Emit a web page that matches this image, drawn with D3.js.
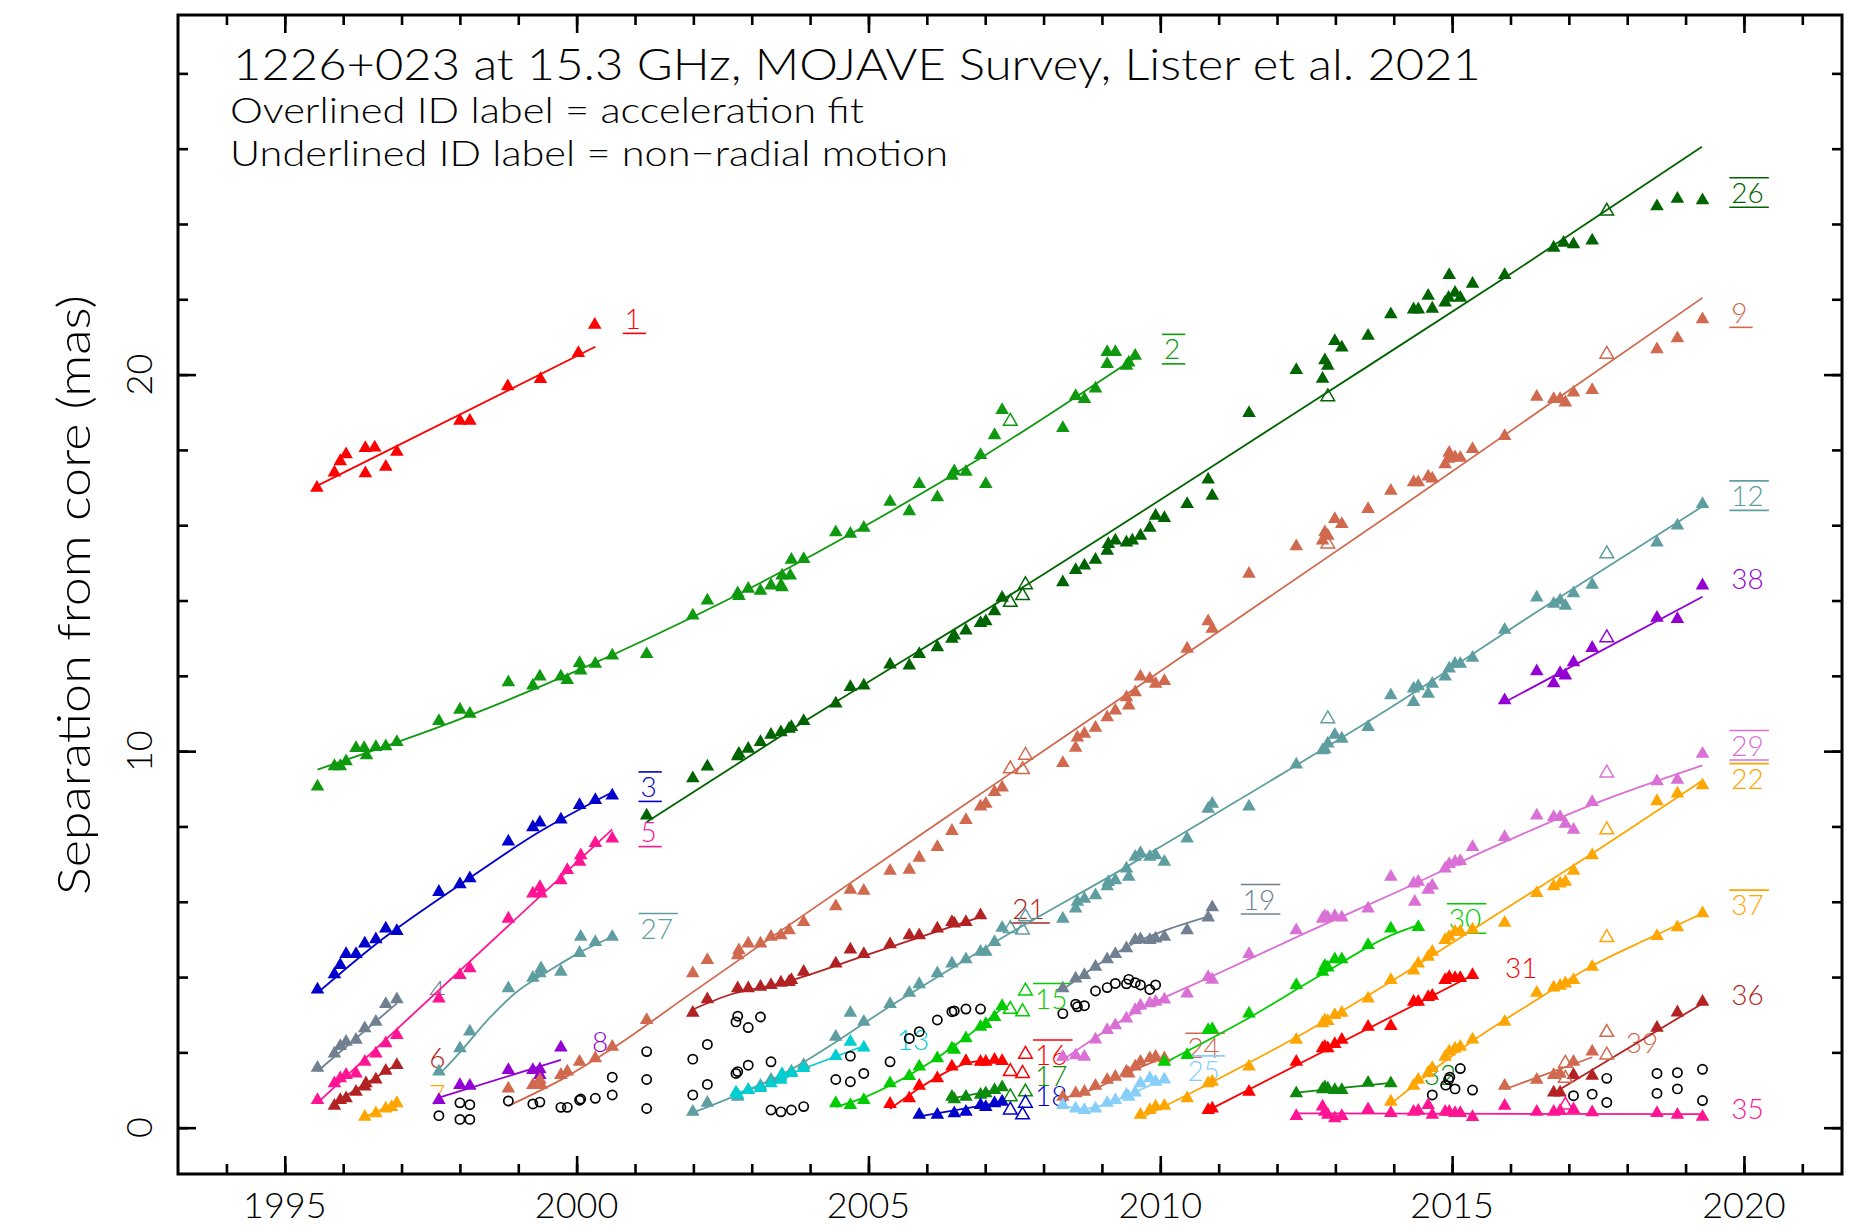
<!DOCTYPE html>
<html>
<head>
<meta charset="utf-8">
<script src="https://cdn.jsdelivr.net/npm/d3@7"></script>
<style>
body { margin: 0; background: #fff; }
svg text { font-family: Lato, "Liberation Sans", Arial, sans-serif; font-weight: 300; }
</style>
</head>
<body>
<svg id="chart" width="1854" height="1227"></svg>
<script>
// epochs [year, separation mas], one array per jet feature
var c1 = [[1995.55,16.99],[1995.85,17.40],[1995.95,17.70],[1996.05,17.88],[1996.38,18.05],[1996.38,17.38],[1996.54,18.06],[1996.73,17.55],[1996.92,17.95],[1998.0,18.77],[1998.17,18.77],[1998.82,19.69],[1999.38,19.88],[2000.03,20.57],[2000.31,21.32]];
var fit1 = [[1995.56,17.05],[2000.32,20.74]];

var c2 = [[1995.56,9.06],[1995.85,9.60],[1995.95,9.60],[1996.05,9.73],[1996.22,10.08],[1996.36,10.08],[1996.40,9.89],[1996.56,10.11],[1996.73,10.13],[1996.92,10.24],[1997.64,10.80],[1998.00,11.10],[1998.17,10.99],[1998.83,11.83],[1999.25,11.74],[1999.37,11.98],[1999.73,11.98],[1999.84,11.89],[2000.05,12.34],[2000.07,12.14],[2000.32,12.32],[2000.61,12.54],[2001.20,12.58],[2001.99,13.60],[2002.24,14.00],[2002.76,14.19],[2002.78,14.12],[2002.94,14.31],[2003.15,14.26],[2003.33,14.40],[2003.50,14.40],[2003.52,14.66],[2003.66,14.66],[2003.52,14.35],[2003.68,15.08],[2003.89,15.10],[2004.44,15.81],[2004.69,15.77],[2004.92,15.93],[2005.37,16.62],[2005.70,16.37],[2005.87,17.09],[2006.18,16.74],[2006.43,17.31],[2006.47,17.43],[2006.67,17.42],[2006.92,17.86],[2007.01,17.09],[2007.16,18.39],[2007.29,19.06],[2008.33,18.58],[2008.55,19.43],[2008.70,19.35],[2008.89,19.63],[2009.09,20.60],[2009.23,20.60],[2009.09,20.28],[2009.42,20.23],[2009.46,20.32],[2009.57,20.50]];
var c2Open = [[2007.43,18.76]];
var fit2 = [[1995.56,9.51],[1998,10.85],[2000,12.13],[2002.56,14.0],[2005,16.03],[2007,17.86],[2009.57,20.45]];

var c3 = [[1995.56,3.67],[1995.85,4.07],[1995.95,4.32],[1996.05,4.61],[1996.22,4.61],[1996.37,4.89],[1996.56,5.00],[1996.73,5.29],[1996.92,5.22],[1997.64,6.26],[1998.00,6.46],[1998.17,6.62],[1998.83,7.60],[1999.25,7.98],[1999.37,8.10],[1999.73,8.18],[2000.05,8.57],[2000.32,8.70],[2000.61,8.82]];
var fit3 = [[1995.56,3.58],[1996.5,4.8],[1998,6.45],[1999.3,7.8],[2000.61,8.91]];

var c4 = [[1995.56,1.59],[1995.85,1.97],[1995.95,2.17],[1996.05,2.28],[1996.22,2.33],[1996.37,2.64],[1996.56,2.81],[1996.73,3.28],[1996.92,3.41]];
var fit4 = [[1995.56,1.50],[1996.92,3.30]];

var c5 = [[1995.56,0.73],[1995.85,1.18],[1995.95,1.31],[1996.05,1.40],[1996.22,1.44],[1996.37,1.75],[1996.56,1.97],[1996.73,2.24],[1996.92,2.46],[1997.64,3.43],[1998.00,4.05],[1998.17,4.23],[1998.83,5.55],[1999.25,6.22],[1999.37,6.39],[1999.39,6.22],[1999.73,6.57],[1999.84,6.84],[2000.05,7.06],[2000.07,7.23],[2000.32,7.56],[2000.61,7.68]];
var fit5 = [[1995.56,0.66],[2000.61,7.92]];

var c6 = [[1995.85,0.58],[1995.95,0.73],[1996.05,0.78],[1996.22,0.95],[1996.37,1.09],[1996.39,1.18],[1996.56,1.28],[1996.73,1.51],[1996.92,1.66]];
var fit6 = [[1995.79,0.60],[1996.92,1.68]];

var c7 = [[1996.37,0.29],[1996.56,0.38],[1996.73,0.51],[1996.83,0.55],[1996.92,0.65]];
var fit7 = [[1996.30,0.24],[1996.95,0.68]];

var c8 = [[1997.64,0.73],[1998.00,1.13],[1998.17,1.11],[1998.83,1.53],[1999.25,1.53],[1999.37,1.55],[1999.37,1.40],[1999.73,2.13]];
var fit8 = [[1997.64,0.80],[1999.73,1.80]];

var c9 = [[1998.83,1.04],[1999.25,1.13],[1999.37,1.27],[1999.39,1.13],[1999.73,1.40],[1999.84,1.49],[2000.05,1.75],[2000.32,1.84],[2000.61,2.15],[2001.20,2.86],[2001.99,4.10],[2002.24,4.45],[2002.76,4.58],[2002.78,4.71],[2002.94,4.89],[2003.15,4.89],[2003.33,5.07],[2003.50,5.11],[2003.64,5.24],[2003.89,5.46],[2004.44,5.88],[2004.69,6.32],[2004.92,6.29],[2005.37,6.82],[2005.70,6.85],[2005.87,7.17],[2006.18,7.45],[2006.43,7.88],[2006.67,8.17],[2006.92,8.53],[2007.01,8.60],[2007.16,8.91],[2007.29,9.03],[2008.33,9.68],[2008.55,10.09],[2008.58,10.36],[2008.70,10.46],[2008.89,10.62],[2009.09,10.90],[2009.23,11.08],[2009.42,11.43],[2009.46,11.21],[2009.57,11.56],[2009.66,11.98],[2009.82,11.92],[2009.92,11.79],[2010.07,11.86],[2010.46,12.72],[2010.82,13.45],[2010.89,13.25],[2011.52,14.71],[2012.33,15.44],[2012.78,15.59],[2012.82,15.81],[2012.87,15.72],[2012.99,16.16],[2013.11,16.03],[2013.56,16.43],[2013.95,16.91],[2014.34,17.14],[2014.42,17.14],[2014.59,17.29],[2014.66,17.24],[2014.88,17.62],[2014.95,17.92],[2014.94,17.76],[2015.05,17.80],[2015.14,17.79],[2015.35,18.02],[2015.90,18.37],[2016.45,19.41],[2016.74,19.35],[2016.85,19.35],[2016.94,19.26],[2017.08,19.52],[2017.40,19.59],[2018.51,20.67],[2018.86,20.96],[2019.29,21.47]];
var c9Open = [[2007.43,9.53],[2007.64,9.51],[2007.69,9.89],[2012.87,15.5],[2017.65,20.54]];
var fit9 = [[1998.83,0.58],[1999.8,1.33],[2000.61,2.1],[2001.99,3.6],[2003.49,5.22],[2006.27,8.18],[2010.0,12.12],[2014.11,16.47],[2019.29,22.04]];

var c12 = [[2001.99,0.42],[2002.24,0.66],[2002.76,0.82],[2002.94,1.00],[2003.15,1.11],[2003.33,1.27],[2003.50,1.35],[2003.68,1.49],[2003.89,1.66],[2004.44,2.41],[2004.69,3.05],[2004.92,2.81],[2005.37,3.28],[2005.70,3.58],[2005.87,3.81],[2006.18,4.10],[2006.43,4.36],[2006.67,4.47],[2006.92,4.67],[2007.01,4.67],[2007.16,4.93],[2007.29,5.31],[2008.33,5.55],[2008.55,5.82],[2008.58,6.00],[2008.70,6.08],[2008.89,6.17],[2009.09,6.41],[2009.11,6.52],[2009.23,6.57],[2009.42,6.88],[2009.46,6.66],[2009.57,7.19],[2009.66,7.29],[2009.82,7.19],[2009.92,7.23],[2010.07,7.06],[2010.46,7.68],[2010.82,8.47],[2010.89,8.60],[2011.52,8.53],[2012.33,9.64],[2012.78,10.02],[2012.82,10.05],[2012.87,10.20],[2012.99,10.43],[2013.11,10.33],[2013.56,10.64],[2013.95,11.48],[2014.34,11.66],[2014.42,11.72],[2014.34,11.30],[2014.59,11.52],[2014.66,11.79],[2014.88,11.98],[2014.95,12.19],[2015.05,12.32],[2015.14,12.32],[2015.35,12.48],[2015.90,13.22],[2016.45,14.08],[2016.74,13.91],[2016.85,14.00],[2016.94,13.86],[2017.08,14.19],[2017.40,14.42],[2018.51,15.54],[2018.86,15.99],[2019.29,16.56]];
var c12Open = [[2007.43,5.29],[2007.64,5.25],[2007.69,5.60],[2012.87,10.86],[2017.65,15.24]];
var fit12 = [[2001.99,0.4],[2003.5,1.4],[2005.5,3.35],[2007.3,5.05],[2009.5,7.0],[2011.5,8.85],[2013.94,11.15],[2016.5,13.75],[2019.29,16.5]];

var c13 = [[2002.76,0.87],[2002.73,0.93],[2002.94,1.00],[2003.15,1.05],[2003.33,1.18],[2003.50,1.27],[2003.52,1.42],[2003.68,1.45],[2003.89,1.58],[2004.44,1.90],[2004.69,2.28],[2004.92,2.13]];
var fit13 = [[2002.7,0.88],[2004.92,2.17]];

var c15 = [[2004.44,0.65],[2004.69,0.60],[2004.92,0.73],[2005.37,1.18],[2005.70,1.37],[2005.87,1.62],[2006.18,1.84],[2006.43,2.11],[2006.47,2.07],[2006.67,2.37],[2006.92,2.68],[2007.01,2.75],[2007.16,2.94],[2007.29,3.23]];
var c15Open = [[2007.43,3.14],[2007.64,3.08],[2007.69,3.63]];
var fit15 = [[2004.44,0.55],[2004.92,0.8],[2005.87,1.55],[2006.67,2.40],[2007.29,3.17]];

var c16 = [[2005.37,0.63],[2005.70,0.78],[2005.87,1.11],[2006.18,1.31],[2006.43,1.62],[2006.67,1.77],[2006.92,1.75],[2007.01,1.75],[2007.16,1.80],[2007.29,1.77]];
var c16Open = [[2007.43,1.49],[2007.64,1.44],[2007.69,1.95]];
var fit16 = [[2005.37,0.5],[2005.87,1.05],[2006.3,1.45],[2006.67,1.7],[2007.0,1.78],[2007.34,1.75]];

var c17 = [[2006.43,0.82],[2006.47,0.75],[2006.67,0.82],[2006.92,0.87],[2007.01,0.91],[2007.16,1.00],[2007.29,1.07]];
var c17Open = [[2007.43,0.82],[2007.69,0.95]];
var fit17 = [[2006.43,0.78],[2007.29,1.03]];

var c18 = [[2005.87,0.34],[2006.18,0.34],[2006.47,0.38],[2006.67,0.42],[2006.92,0.60],[2007.01,0.55],[2007.16,0.65],[2007.29,0.69]];
var c18Open = [[2007.43,0.47],[2007.64,0.34],[2007.69,0.65]];
var fit18 = [[2005.87,0.30],[2007.29,0.68]];

var c19 = [[2008.33,3.70],[2008.55,3.96],[2008.70,4.05],[2008.89,4.27],[2009.09,4.47],[2009.23,4.61],[2009.42,4.76],[2009.57,4.98],[2009.66,5.00],[2009.82,4.98],[2009.92,5.02],[2010.07,5.07],[2010.46,5.24],[2010.82,5.58],[2010.89,5.85]];
var fit19 = [[2008.33,3.67],[2008.95,4.35],[2009.59,4.93],[2010.25,5.33],[2010.89,5.64]];

var c21 = [[2001.99,3.05],[2002.24,3.41],[2002.76,3.70],[2002.94,3.70],[2003.15,3.74],[2003.33,3.79],[2003.50,3.85],[2003.64,3.87],[2003.68,3.92],[2003.89,4.14],[2004.44,4.36],[2004.69,4.73],[2004.92,4.61],[2005.37,4.87],[2005.70,5.11],[2005.87,5.11],[2006.18,5.29],[2006.43,5.46],[2006.47,5.42],[2006.67,5.46],[2006.92,5.64]];
var fit21 = [[2001.99,3.14],[2002.66,3.55],[2003.49,3.83],[2005.0,4.6],[2006.92,5.6]];

var c22 = [[2009.66,0.34],[2009.82,0.47],[2009.92,0.56],[2010.07,0.58],[2010.46,0.78],[2010.82,1.18],[2010.89,1.22],[2011.52,1.62],[2012.33,2.33],[2012.78,2.77],[2012.82,2.85],[2012.87,2.83],[2012.99,2.99],[2013.11,3.05],[2013.56,3.43],[2013.95,3.92],[2014.34,4.17],[2014.42,4.36],[2014.59,4.54],[2014.66,4.67],[2014.88,4.98],[2014.95,5.07],[2015.05,5.20],[2015.14,5.20],[2015.35,5.26],[2015.90,5.44],[2016.45,6.23],[2016.74,6.41],[2016.85,6.48],[2016.94,6.53],[2017.08,6.82],[2017.40,7.23],[2018.51,8.67],[2018.86,8.87],[2019.29,9.09]];
var c22Open = [[2017.65,7.91]];
var fit22 = [[2009.66,0.25],[2011.0,1.3],[2012.5,2.55],[2013.94,3.87],[2015.7,5.6],[2017.4,7.28],[2019.29,9.22]];

var c24 = [[2008.33,0.82],[2008.55,0.91],[2008.70,0.95],[2008.89,1.11],[2009.09,1.27],[2009.23,1.35],[2009.42,1.49],[2009.46,1.44],[2009.57,1.62],[2009.66,1.75],[2009.82,1.84],[2009.92,1.88],[2010.07,1.84]];
var fit24 = [[2008.33,0.78],[2008.9,1.05],[2009.5,1.5],[2010.07,1.86]];

var c25 = [[2008.33,0.60],[2008.55,0.51],[2008.70,0.47],[2008.89,0.51],[2009.09,0.66],[2009.23,0.73],[2009.42,0.87],[2009.46,0.82],[2009.57,0.93],[2009.66,1.18],[2009.82,1.31],[2009.92,1.22],[2010.07,1.28]];
var fit25 = [[2008.33,0.58],[2008.7,0.5],[2009.2,0.7],[2009.65,1.0],[2010.07,1.3]];

var c26 = [[2001.20,8.29],[2001.99,9.28],[2002.24,9.59],[2002.76,9.86],[2002.78,9.93],[2002.94,10.06],[2003.15,10.24],[2003.33,10.43],[2003.50,10.50],[2003.64,10.59],[2003.68,10.64],[2003.89,10.80],[2004.44,11.26],[2004.69,11.70],[2004.92,11.74],[2005.37,12.30],[2005.70,12.27],[2005.87,12.58],[2006.18,12.76],[2006.43,12.98],[2006.47,13.07],[2006.67,13.20],[2006.92,13.40],[2007.01,13.45],[2007.16,13.71],[2007.29,14.07],[2008.33,14.48],[2008.55,14.81],[2008.70,14.93],[2008.89,15.08],[2009.09,15.32],[2009.11,15.50],[2009.23,15.59],[2009.42,15.54],[2009.52,15.59],[2009.66,15.72],[2009.82,15.93],[2009.92,16.25],[2010.07,16.19],[2010.46,16.56],[2010.82,17.21],[2010.89,16.78],[2011.52,18.98],[2012.33,20.12],[2012.78,19.89],[2012.82,20.38],[2012.87,20.23],[2012.99,20.89],[2013.11,20.72],[2013.56,21.03],[2013.95,21.60],[2014.34,21.73],[2014.42,21.73],[2014.59,22.09],[2014.66,21.75],[2014.88,21.91],[2014.95,22.64],[2014.94,22.04],[2015.05,22.17],[2015.14,22.04],[2015.35,22.41],[2015.90,22.64],[2016.74,23.37],[2016.91,23.50],[2017.08,23.46],[2017.40,23.56],[2018.51,24.47],[2018.86,24.67],[2019.29,24.63]];
var c26Open = [[2007.43,13.95],[2007.64,14.13],[2007.69,14.42],[2012.87,19.41],[2017.65,24.34]];
var fit26 = [[2001.2,8.12],[2003.5,10.4],[2008.0,14.7],[2012.63,19.3],[2016.0,22.67],[2019.28,26.05]];

var c27 = [[1997.64,1.49],[1998.00,2.11],[1998.17,2.55],[1998.83,3.70],[1999.25,3.98],[1999.37,4.10],[1999.39,4.23],[1999.73,4.14],[2000.05,4.64],[2000.07,5.07],[2000.32,4.93],[2000.61,5.07]];
var fit27 = [[1997.64,1.40],[1998.0,2.0],[1998.5,2.9],[1998.93,3.55],[1999.54,4.18],[2000.05,4.65],[2000.61,5.07]];

var c29 = [[2008.33,1.88],[2008.55,1.92],[2008.70,1.88],[2008.89,2.34],[2009.09,2.59],[2009.23,2.72],[2009.42,2.90],[2009.57,3.12],[2009.66,3.24],[2009.82,3.30],[2009.92,3.34],[2010.07,3.40],[2010.46,3.56],[2010.82,4.00],[2010.89,3.93],[2011.52,4.61],[2012.33,5.24],[2012.78,5.55],[2012.82,5.62],[2012.87,5.58],[2012.99,5.62],[2013.11,5.58],[2013.56,5.82],[2013.95,6.66],[2014.34,6.48],[2014.42,6.53],[2014.36,6.00],[2014.59,6.32],[2014.66,6.43],[2014.88,6.88],[2014.95,7.00],[2015.05,7.06],[2015.14,7.08],[2015.35,7.45],[2015.90,7.72],[2016.45,8.29],[2016.74,8.25],[2016.85,8.25],[2016.94,8.07],[2017.08,7.91],[2017.40,8.65],[2018.51,9.20],[2018.86,9.24],[2019.29,9.93]];
var c29Open = [[2017.65,9.42]];
var fit29 = [[2008.33,1.8],[2009.59,3.08],[2011.0,4.1],[2012.5,5.18],[2014.11,6.3],[2015.7,7.45],[2017.37,8.56],[2019.29,9.62]];

var c30 = [[2010.07,1.75],[2010.46,1.93],[2010.82,2.59],[2010.89,2.62],[2011.52,3.03],[2012.33,3.79],[2012.78,4.14],[2012.82,4.30],[2012.87,4.25],[2012.99,4.47],[2013.11,4.47],[2013.56,4.85],[2013.95,5.29],[2014.42,5.33]];
var fit30 = [[2010.07,1.72],[2011.5,2.9],[2012.8,4.1],[2013.97,5.12],[2014.42,5.38]];

var c31 = [[2010.82,0.47],[2010.89,0.51],[2011.52,0.95],[2012.33,1.75],[2012.78,2.11],[2012.82,2.15],[2012.87,2.11],[2012.99,2.22],[2013.11,2.33],[2013.56,2.68],[2013.95,2.70],[2014.34,3.34],[2014.42,3.34],[2014.59,3.47],[2014.66,3.50],[2014.88,3.92],[2014.95,4.00],[2015.05,3.97],[2015.14,3.97],[2015.35,4.05]];
var fit31 = [[2010.77,0.42],[2015.35,4.05]];

var c32 = [[2012.33,0.91],[2012.78,1.02],[2012.82,1.07],[2012.87,1.04],[2012.99,1.00],[2013.11,1.00],[2013.56,1.19],[2013.95,1.18]];
var fit32 = [[2012.33,0.93],[2013.95,1.19]];

var c35 = [[2012.33,0.31],[2012.78,0.56],[2012.82,0.42],[2012.87,0.34],[2012.99,0.25],[2013.11,0.31],[2013.56,0.49],[2013.95,0.39],[2014.34,0.42],[2014.42,0.45],[2014.59,0.60],[2014.66,0.34],[2014.88,0.42],[2014.95,0.42],[2015.05,0.39],[2015.14,0.39],[2015.35,0.28],[2015.90,0.58],[2016.45,0.42],[2016.74,0.42],[2016.85,0.45],[2017.08,0.49],[2017.40,0.41],[2018.51,0.39],[2018.86,0.34],[2019.29,0.29]];
var c35Open = [[2016.94,0.60]];
var fit35 = [[2012.33,0.38],[2019.29,0.36]];

var c36 = [[2016.74,0.93],[2016.85,0.93],[2017.08,1.40],[2017.40,1.38],[2018.51,2.65],[2018.86,3.06],[2019.29,3.34]];
var fit36 = [[2016.85,1.02],[2019.29,3.30]];

var c37 = [[2013.95,0.69],[2014.34,1.11],[2014.42,1.27],[2014.59,1.45],[2014.66,1.58],[2014.88,1.88],[2014.95,2.02],[2015.05,2.10],[2015.14,2.15],[2015.35,2.34],[2015.90,2.81],[2016.45,3.58],[2016.74,3.72],[2016.85,3.77],[2016.94,3.83],[2017.08,3.92],[2017.40,4.27],[2018.51,5.09],[2018.86,5.32],[2019.29,5.69]];
var c37Open = [[2017.65,5.05]];
var fit37 = [[2013.94,0.62],[2015.35,2.3],[2016.4,3.35],[2017.4,4.3],[2018.4,5.05],[2019.29,5.69]];

var c38 = [[2015.90,11.35],[2016.45,12.12],[2016.74,11.80],[2016.85,12.07],[2016.94,12.01],[2017.08,12.36],[2017.40,12.74],[2018.51,13.54],[2018.86,13.51],[2019.29,14.40]];
var c38Open = [[2017.65,13.01]];
var fit38 = [[2015.90,11.3],[2019.29,14.10]];

var c39 = [[2015.90,1.11],[2016.45,1.27],[2016.74,1.40],[2016.85,1.43],[2017.08,1.75],[2017.40,2.02]];
var c39Open = [[2016.94,1.71],[2016.94,1.31],[2017.65,2.53],[2017.65,1.93]];
var fit39 = [[2015.90,1.02],[2017.40,1.87]];

// components without an ID (open circles)
var unidentified = [[1997.64,0.32],[1998.00,0.66],[1998.17,0.61],[1998.00,0.22],[1998.17,0.22],[1998.83,0.71],[1999.25,0.63],[1999.37,0.68],[1999.73,0.54],[1999.84,0.54],[2000.05,0.73],[2000.07,0.76],[2000.32,0.78],[2000.61,0.87],[2000.61,1.34],[2001.20,2.02],[2001.20,1.28],[2001.20,0.51],[2001.99,1.82],[2001.99,0.87],[2002.24,2.21],[2002.24,1.15],[2002.76,2.96],[2002.73,2.81],[2002.94,2.66],[2003.15,2.94],[2002.76,1.49],[2002.73,1.44],[2002.94,1.66],[2003.33,1.75],[2003.33,0.47],[2003.50,0.42],[2003.68,0.47],[2003.89,0.56],[2004.44,1.28],[2004.69,1.22],[2004.92,1.44],[2004.69,1.90],[2005.37,1.75],[2005.70,2.37],[2005.87,2.55],[2006.18,2.86],[2006.43,3.08],[2006.47,3.10],[2006.67,3.15],[2006.92,3.15],[2008.33,3.03],[2008.55,3.28],[2008.58,3.21],[2008.70,3.24],[2008.89,3.63],[2009.09,3.72],[2009.23,3.83],[2009.42,3.82],[2009.46,3.94],[2009.57,3.85],[2009.66,3.79],[2009.82,3.67],[2009.92,3.79],[2014.66,0.87],[2014.89,1.13],[2014.94,1.28],[2014.96,1.34],[2015.05,1.03],[2015.14,1.57],[2015.35,1.00],[2017.08,0.85],[2017.40,0.89],[2017.65,1.31],[2017.65,0.67],[2018.51,1.44],[2018.51,0.91],[2018.86,1.46],[2018.86,1.03],[2019.29,1.55],[2019.29,0.72]];

// ID labels: [id, year of left edge, mas of middle, o = overline / u = underline]
var labels = [
    ['1',2000.79,21.48,'u'], ['2',2010.03,20.67,'ou'], ['3',2001.06,9.05,'ou'],
    ['4',1997.44,3.63,''], ['5',2001.06,7.85,'u'], ['6',1997.44,1.84,''],
    ['7',1997.44,0.87,''], ['8',2000.23,2.28,''], ['9',2019.75,21.64,'u'],
    ['12',2019.75,16.78,'ou'], ['13',2005.45,2.33,''], ['15',2007.82,3.43,'o'],
    ['16',2007.82,1.93,'o'], ['17',2007.82,1.37,''], ['18',2007.82,0.85,''],
    ['19',2011.38,6.06,'ou'], ['21',2007.43,5.82,'u'], ['22',2019.75,9.27,'o'],
    ['24',2010.43,2.11,'o'], ['25',2010.43,1.51,'o'], ['26',2019.75,24.83,'ou'],
    ['27',2001.06,5.29,'o'], ['29',2019.75,10.15,'ou'], ['30',2014.91,5.55,'ou'],
    ['31',2015.87,4.23,''], ['32',2014.48,1.40,''], ['35',2019.75,0.51,''],
    ['36',2019.75,3.52,''], ['37',2019.75,5.91,'o'], ['38',2019.75,14.57,''],
    ['39',2017.94,2.24,'']
];

var xMinorTicks = d3.range(1994, 2022);
var xMajorTicks = [1995, 2000, 2005, 2010, 2015, 2020];
var yMinorTicks = d3.range(0, 30, 2);
var yMajorTicks = [0, 10, 20];

var titleText = '1226+023 at 15.3 GHz, MOJAVE Survey, Lister et al. 2021';
var noteLines = ['Overlined ID label = acceleration fit', 'Underlined ID label = non\u2212radial motion'];

var comps = [
    {id:'1', color:'#FF0000', pts:c1, open:[], fit:fit1},
    {id:'2', color:'#0E990E', pts:c2, open:c2Open, fit:fit2},
    {id:'3', color:'#0000CD', pts:c3, open:[], fit:fit3},
    {id:'4', color:'#708090', pts:c4, open:[], fit:fit4},
    {id:'5', color:'#FF1493', pts:c5, open:[], fit:fit5},
    {id:'6', color:'#B22222', pts:c6, open:[], fit:fit6},
    {id:'7', color:'#FFA500', pts:c7, open:[], fit:fit7},
    {id:'8', color:'#9400D3', pts:c8, open:[], fit:fit8},
    {id:'9', color:'#D0694E', pts:c9, open:c9Open, fit:fit9},
    {id:'12', color:'#5F9EA0', pts:c12, open:c12Open, fit:fit12},
    {id:'13', color:'#00CED1', pts:c13, open:[], fit:fit13},
    {id:'15', color:'#00CC00', pts:c15, open:c15Open, fit:fit15},
    {id:'16', color:'#FF0000', pts:c16, open:c16Open, fit:fit16},
    {id:'17', color:'#0B8A0B', pts:c17, open:c17Open, fit:fit17},
    {id:'18', color:'#0000CD', pts:c18, open:c18Open, fit:fit18},
    {id:'19', color:'#708090', pts:c19, open:[], fit:fit19},
    {id:'21', color:'#B22222', pts:c21, open:[], fit:fit21},
    {id:'22', color:'#FFA500', pts:c22, open:c22Open, fit:fit22},
    {id:'24', color:'#D0694E', pts:c24, open:[], fit:fit24},
    {id:'25', color:'#87CEFA', pts:c25, open:[], fit:fit25},
    {id:'26', color:'#006400', pts:c26, open:c26Open, fit:fit26},
    {id:'27', color:'#5F9EA0', pts:c27, open:[], fit:fit27},
    {id:'29', color:'#DA70D6', pts:c29, open:c29Open, fit:fit29},
    {id:'30', color:'#00CC00', pts:c30, open:[], fit:fit30},
    {id:'31', color:'#FF0000', pts:c31, open:[], fit:fit31},
    {id:'32', color:'#0B8A0B', pts:c32, open:[], fit:fit32},
    {id:'35', color:'#FF1493', pts:c35, open:c35Open, fit:fit35},
    {id:'36', color:'#B22222', pts:c36, open:[], fit:fit36},
    {id:'37', color:'#FFA500', pts:c37, open:c37Open, fit:fit37},
    {id:'38', color:'#9400D3', pts:c38, open:c38Open, fit:fit38},
    {id:'39', color:'#D0694E', pts:c39, open:c39Open, fit:fit39}
];

var W = 1854, H = 1227;
var frame = {left: 178, right: 1842, top: 15, bottom: 1174};

var svg = d3.select('#chart');
svg.append('rect').attr('width', W).attr('height', H).attr('fill', '#fff');

var x = d3.scaleLinear().domain([1993.17, 2021.68]).range([frame.left, frame.right]);
var y = d3.scaleLinear().domain([-1.23, 29.55]).range([frame.bottom, frame.top]);

// ticks on all four sides, pointing inward
function tickAxis(axis, tx, ty, vals, len) {
    var g = svg.append('g').attr('transform', 'translate(' + tx + ',' + ty + ')')
        .call(axis.tickValues(vals).tickSize(-len).tickFormat(''));
    g.select('.domain').remove();
    g.selectAll('.tick line').attr('stroke', '#000').attr('stroke-width', 2.6);
    return g;
}
tickAxis(d3.axisBottom(x), 0, frame.bottom, xMinorTicks, 10);
tickAxis(d3.axisBottom(x), 0, frame.bottom, xMajorTicks, 18);
tickAxis(d3.axisTop(x), 0, frame.top, xMinorTicks, 10);
tickAxis(d3.axisTop(x), 0, frame.top, xMajorTicks, 18);
tickAxis(d3.axisLeft(y), frame.left, 0, yMinorTicks, 10);
tickAxis(d3.axisLeft(y), frame.left, 0, yMajorTicks, 18);
tickAxis(d3.axisRight(y), frame.right, 0, yMinorTicks, 10);
tickAxis(d3.axisRight(y), frame.right, 0, yMajorTicks, 18);

svg.append('rect')
    .attr('x', frame.left).attr('y', frame.top)
    .attr('width', frame.right - frame.left).attr('height', frame.bottom - frame.top)
    .attr('fill', 'none').attr('stroke', '#000').attr('stroke-width', 3);

svg.selectAll('.xlab').data(xMajorTicks).enter().append('text')
    .attr('class', 'xlab')
    .attr('x', function (d) { return x(d); })
    .attr('y', 1218)
    .attr('text-anchor', 'middle')
    .attr('font-size', 36)
    .text(function (d) { return d; });

svg.selectAll('.ylab').data(yMajorTicks).enter().append('text')
    .attr('class', 'ylab')
    .attr('transform', function (d) { return 'translate(152,' + y(d) + ') rotate(-90)'; })
    .attr('text-anchor', 'middle')
    .attr('font-size', 36)
    .text(function (d) { return d; });

svg.append('text')
    .attr('transform', 'translate(90,595) rotate(-90)')
    .attr('text-anchor', 'middle')
    .attr('font-size', 46)
    .attr('textLength', 600).attr('lengthAdjust', 'spacingAndGlyphs')
    .text('Separation from core (mas)');

svg.append('text').attr('x', 233).attr('y', 80).attr('font-size', 43)
    .attr('textLength', 1248).attr('lengthAdjust', 'spacingAndGlyphs')
    .text(titleText);
svg.append('text').attr('x', 230).attr('y', 123).attr('font-size', 35)
    .attr('textLength', 634).attr('lengthAdjust', 'spacingAndGlyphs')
    .text(noteLines[0]);
svg.append('text').attr('x', 230).attr('y', 166).attr('font-size', 35)
    .attr('textLength', 718).attr('lengthAdjust', 'spacingAndGlyphs')
    .text(noteLines[1]);

// ID labels sit underneath the marks, as in the original plot
var colorOf = {};
comps.forEach(function (c) { colorOf[c.id] = c.color; });

var labelLayer = svg.append('g');
labels.forEach(function (l) {
    var col = colorOf[l[0]];
    var lx = x(l[1]), ly = y(l[2]);
    var t = labelLayer.append('text')
        .attr('x', lx + 2).attr('y', ly).attr('dy', '0.36em')
        .attr('font-size', 28)
        .attr('fill', col)
        .text(l[0]);
    var w = t.node().getComputedTextLength();
    if (l[3].indexOf('o') >= 0) {
        labelLayer.append('line').attr('x1', lx).attr('x2', lx + w + 7)
            .attr('y1', ly - 15).attr('y2', ly - 15)
            .attr('stroke', col).attr('stroke-width', 1.6);
    }
    if (l[3].indexOf('u') >= 0) {
        labelLayer.append('line').attr('x1', lx).attr('x2', lx + w + 7)
            .attr('y1', ly + 14.5).attr('y2', ly + 14.5)
            .attr('stroke', col).attr('stroke-width', 1.6);
    }
});

var plot = svg.append('g');
var line = d3.line()
    .x(function (d) { return x(d[0]); })
    .y(function (d) { return y(d[1]); })
    .curve(d3.curveMonotoneX);

comps.forEach(function (c) {
    plot.append('path').datum(c.fit)
        .attr('d', line)
        .attr('fill', 'none')
        .attr('stroke', c.color)
        .attr('stroke-width', 1.8);
});

plot.selectAll('.ring').data(unidentified).enter().append('circle')
    .attr('class', 'ring')
    .attr('cx', function (d) { return x(d[0]); })
    .attr('cy', function (d) { return y(d[1]); })
    .attr('r', 4.6)
    .attr('fill', 'none')
    .attr('stroke', '#000')
    .attr('stroke-width', 1.7);

var tri = d3.symbol().type(d3.symbolTriangle).size(80);
comps.forEach(function (c) {
    plot.selectAll(null).data(c.pts).enter().append('path')
        .attr('d', tri)
        .attr('transform', function (d) { return 'translate(' + x(d[0]) + ',' + y(d[1]) + ')'; })
        .attr('fill', c.color);
    plot.selectAll(null).data(c.open).enter().append('path')
        .attr('d', tri)
        .attr('transform', function (d) { return 'translate(' + x(d[0]) + ',' + y(d[1]) + ')'; })
        .attr('fill', 'none')
        .attr('stroke', c.color)
        .attr('stroke-width', 1.5);
});
</script>
</body>
</html>
